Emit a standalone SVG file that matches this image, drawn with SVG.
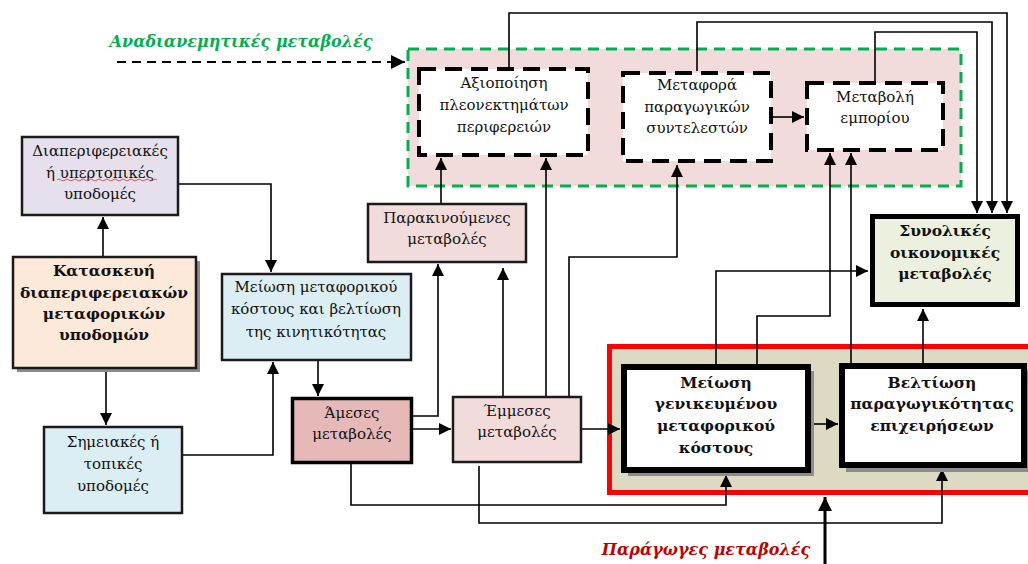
<svg xmlns="http://www.w3.org/2000/svg" width="1028" height="564" viewBox="0 0 1028 564">
<defs>
<marker id="ah" markerUnits="userSpaceOnUse" markerWidth="12" markerHeight="12" viewBox="0 0 12 12" refX="12" refY="6" orient="auto">
<path d="M0,0 L12,6 L0,12 Z" fill="#000"/>
</marker>
<marker id="ahb" markerUnits="userSpaceOnUse" markerWidth="14" markerHeight="14" viewBox="0 0 14 14" refX="14" refY="7" orient="auto">
<path d="M0,0 L14,7 L0,14 Z" fill="#000"/>
</marker>
<style>
.t{font-family:"DejaVu Serif","Liberation Serif",serif;font-size:15px;fill:#111;text-anchor:middle}
.b{font-family:"DejaVu Serif","Liberation Serif",serif;font-size:15.5px;font-weight:bold;fill:#111;text-anchor:middle}
.box{stroke:#1a1a1a;stroke-width:2.5}
.dash{fill:#fff;stroke:#000;stroke-width:4;stroke-dasharray:17 9}
.thick{fill:#fff;stroke:#000;stroke-width:6}
.shadow{fill:#8c8c8c}
.c{fill:none;stroke:#000;stroke-width:1.6}
.ca{fill:none;stroke:#000;stroke-width:1.6;marker-end:url(#ah)}
.lbl{font-family:"DejaVu Serif","Liberation Serif",serif;font-weight:bold;font-style:italic;font-size:16px}
</style>
</defs>
<rect width="1028" height="564" fill="#fff"/>

<g id="redistributive-group">
<rect x="408" y="49" width="553" height="137" fill="#f2dcdb" stroke="#00b050" stroke-width="3" stroke-dasharray="11 7"/>
<text x="241" y="47" class="lbl" fill="#00b050" text-anchor="middle">Αναδιανεμητικές μεταβολές</text>
</g>
<g id="generative-group">
<rect x="609.5" y="346.5" width="440" height="146" fill="#ddd9c3" stroke="#ff0000" stroke-width="5"/>
<text x="706" y="555" class="lbl" fill="#c00000" text-anchor="middle" font-size="17">Παράγωγες μεταβολές</text>
</g>

<g id="connectors">
<path d="M117,62 L405,62" fill="none" stroke="#000" stroke-width="2" stroke-dasharray="9 6" marker-end="url(#ahb)"/>
<path class="ca" d="M103,256 L103,217"/>
<path class="ca" d="M106,370 L106,425"/>
<path class="ca" d="M179,184 L271,184 L271,272"/>
<path class="ca" d="M183,455 L273,455 L273,362"/>
<path class="ca" d="M318,361 L318,396"/>
<path class="ca" d="M413,416 L438,416 L438,264"/>
<path class="ca" d="M413,429 L451,429"/>
<path class="ca" d="M503,396 L503,268"/>
<path class="ca" d="M441,203 L441,158"/>
<path class="ca" d="M546,396 L546,158"/>
<path class="ca" d="M569,396 L569,257 L677,257 L677,165"/>
<path class="ca" d="M582,429 L620,429"/>
<path class="ca" d="M351,464 L351,505 L726,505 L726,475"/>
<path class="ca" d="M479,466 L479,523 L942,523 L942,469"/>
<path d="M825,564 L825,497" fill="none" stroke="#000" stroke-width="3" marker-end="url(#ahb)"/>
<path class="ca" d="M811,424 L838,424"/>
<path class="ca" d="M923,363 L923,309"/>
<path class="ca" d="M716,364 L716,271 L868,271"/>
<path class="ca" d="M757,364 L757,316 L830,316 L830,153"/>
<path class="ca" d="M851,364 L851,153"/>
<path class="ca" d="M509,68 L509,13 L1007,13 L1007,213"/>
<path class="ca" d="M697,71 L697,22 L992,22 L992,213"/>
<path class="ca" d="M875,81 L875,32 L977,32 L977,213"/>
<path class="ca" d="M773,117 L804,117"/>
</g>

<g id="n-interregional">
<rect class="box" x="22" y="137" width="156" height="78" fill="#e5e0ec"/>
<text class="t" x="100" y="156">Διαπεριφερειακές</text>
<text class="t" x="100" y="178">ή υπερτοπικές</text>
<text class="t" x="100" y="199">υποδομές</text>
<path d="M57,180 q2,-2 4,0 t4,0 t4,0 t4,0 t4,0 t4,0 t4,0 t4,0 t4,0 t4,0 t4,0 t4,0 t4,0 t4,0 t4,0 t4,0 t4,0 t4,0 t4,0 t4,0 t4,0 t4,0 t4,0 t4,0 t4,0" fill="none" stroke="#e03030" stroke-width="0.8"/>
</g>

<g id="n-construction">
<rect class="shadow" x="17" y="261" width="183" height="111"/>
<rect class="box" x="13" y="257" width="183" height="111" fill="#fde9d9"/>
<text class="b" x="104" y="276">Κατασκευή</text>
<text class="b" x="104" y="298">διαπεριφερειακών</text>
<text class="b" x="104" y="319">μεταφορικών</text>
<text class="b" x="104" y="340">υποδομών</text>
</g>

<g id="n-local">
<rect class="box" x="44" y="427" width="138" height="86" fill="#dbeef4"/>
<text class="t" x="113" y="447">Σημειακές ή</text>
<text class="t" x="113" y="469">τοπικές</text>
<text class="t" x="113" y="491">υποδομές</text>
</g>

<g id="n-cost-reduction">
<rect class="box" x="222" y="274" width="189" height="86" fill="#dbeef4"/>
<text class="t" x="316" y="292">Μείωση μεταφορικού</text>
<text class="t" x="316" y="314">κόστους και βελτίωση</text>
<text class="t" x="316" y="337">της κινητικότητας</text>
</g>

<g id="n-induced">
<rect class="box" x="368" y="204" width="158" height="58" fill="#f2dcdb"/>
<text class="t" x="447" y="223">Παρακινούμενες</text>
<text class="t" x="447" y="244">μεταβολές</text>
</g>

<g id="n-direct">
<rect x="292.5" y="398.5" width="119" height="64" fill="#e6b9b8" stroke="#000" stroke-width="3.5"/>
<text class="t" x="352" y="418">Άμεσες</text>
<text class="t" x="352" y="439">μεταβολές</text>
</g>

<g id="n-indirect">
<rect class="box" x="453" y="397" width="128" height="65" fill="#f2dcdb"/>
<text class="t" x="517" y="416">Έμμεσες</text>
<text class="t" x="517" y="437">μεταβολές</text>
</g>

<g id="n-regional-advantages">
<rect class="dash" x="419" y="69" width="169" height="86"/>
<text class="t" x="504" y="88">Αξιοποίηση</text>
<text class="t" x="504" y="110">πλεονεκτημάτων</text>
<text class="t" x="504" y="132">περιφερειών</text>
</g>

<g id="n-factor-transfer">
<rect class="dash" x="623" y="73" width="148" height="88"/>
<text class="t" x="697" y="90">Μεταφορά</text>
<text class="t" x="697" y="112">παραγωγικών</text>
<text class="t" x="697" y="133">συντελεστών</text>
</g>

<g id="n-trade">
<rect class="dash" x="807" y="83" width="136" height="67"/>
<text class="t" x="875" y="102">Μεταβολή</text>
<text class="t" x="875" y="123">εμπορίου</text>
</g>

<g id="n-total">
<rect x="872.5" y="216.5" width="145" height="88" fill="#ebf1de" stroke="#000" stroke-width="5"/>
<text class="b" x="945" y="236">Συνολικές</text>
<text class="b" x="945" y="258">οικονομικές</text>
<text class="b" x="945" y="279">μεταβολές</text>
</g>

<g id="n-generalized-cost">
<rect class="shadow" x="628" y="371" width="186" height="105"/>
<rect class="thick" x="624" y="367" width="184" height="103"/>
<text class="b" x="716" y="388">Μείωση</text>
<text class="b" x="716" y="409">γενικευμένου</text>
<text class="b" x="716" y="431">μεταφορικού</text>
<text class="b" x="716" y="453">κόστους</text>
</g>

<g id="n-productivity">
<rect class="shadow" x="846" y="370" width="186" height="102"/>
<rect class="thick" x="842" y="366" width="182" height="99"/>
<text class="b" x="932" y="388">Βελτίωση</text>
<text class="b" x="932" y="409">παραγωγικότητας</text>
<text class="b" x="932" y="431">επιχειρήσεων</text>
</g>
</svg>
